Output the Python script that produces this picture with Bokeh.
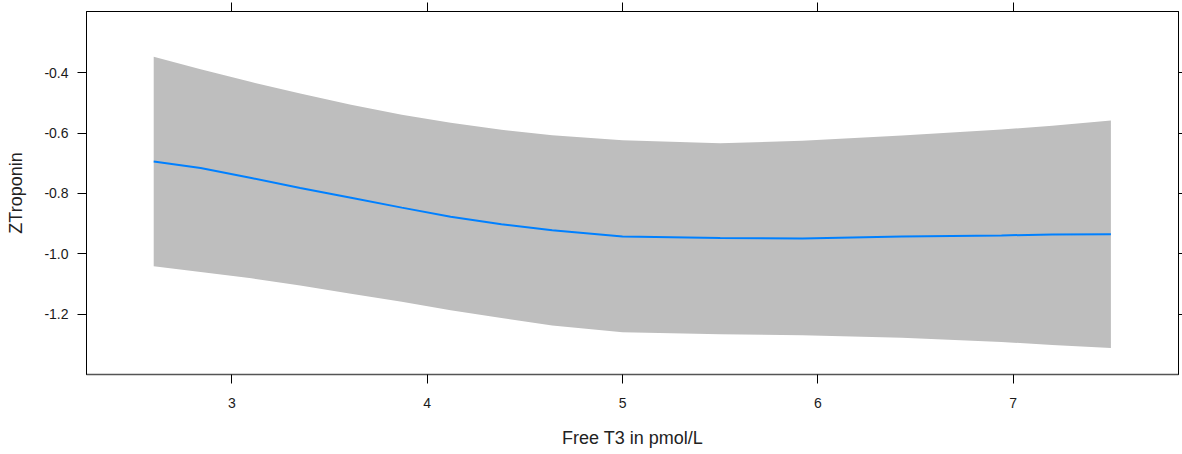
from bokeh.plotting import figure
from bokeh.models import LinearAxis, FixedTicker, PrintfTickFormatter, Range1d
from bokeh.embed import file_html
from bokeh.resources import INLINE

# Data
free_t3 = [2.6, 2.84, 3.1, 3.35, 3.61, 3.87, 4.12, 4.38, 4.64, 5.0, 5.5, 5.92, 6.43, 6.94, 7.2, 7.5]
fit = [-0.694, -0.716, -0.749, -0.782, -0.814, -0.847, -0.877, -0.902, -0.922, -0.943, -0.948, -0.949, -0.943, -0.939, -0.936, -0.935]
lower = [-1.041, -1.060, -1.081, -1.105, -1.132, -1.159, -1.187, -1.213, -1.238, -1.260, -1.267, -1.270, -1.278, -1.292, -1.302, -1.312]
upper = [-0.347, -0.388, -0.431, -0.469, -0.506, -0.539, -0.566, -0.589, -0.607, -0.624, -0.634, -0.625, -0.608, -0.588, -0.576, -0.558]

x_ticks = [3, 4, 5, 6, 7]
y_ticks = [-1.2, -1.0, -0.8, -0.6, -0.4]

FONT = "Liberation Sans"

p = figure(width=1182, height=454, output_backend="svg", toolbar_location=None,
           x_range=Range1d(2.256, 7.846), y_range=Range1d(-1.400, -0.197),
           x_axis_location=None, y_axis_location=None)
p.min_border_left = 86
p.min_border_top = 11
p.min_border_right = 4
p.min_border_bottom = 80
p.xgrid.visible = False
p.ygrid.visible = False
p.outline_line_color = "black"
p.outline_line_width = 1
p.background_fill_color = "white"
p.border_fill_color = "white"

p.varea(x=free_t3, y1=lower, y2=upper, fill_color="#BEBEBE", fill_alpha=1.0)
p.line(x=free_t3, y=fit, line_color="#0080FF", line_width=2)


def labelled(ax, ticks, fmt):
    ax.ticker = FixedTicker(ticks=ticks)
    ax.formatter = PrintfTickFormatter(format=fmt)
    ax.major_tick_out = 9
    ax.major_tick_in = 0
    ax.minor_tick_out = 0
    ax.minor_tick_in = 0
    ax.major_tick_line_color = "black"
    ax.axis_line_color = "black"
    ax.major_label_text_font = FONT
    ax.major_label_text_font_size = "14px"
    ax.major_label_text_color = "#1a1a1a"
    ax.axis_label_text_font = FONT
    ax.axis_label_text_font_size = "18px"
    ax.axis_label_text_font_style = "normal"
    ax.axis_label_text_color = "#222222"


def unlabelled(ax, ticks, tick_out):
    # tick marks only: minor ticks carry no labels
    ax.ticker = FixedTicker(ticks=[], minor_ticks=ticks)
    ax.major_tick_out = 0
    ax.major_tick_in = 0
    ax.minor_tick_out = tick_out
    ax.minor_tick_in = 0
    ax.minor_tick_line_color = "black"
    ax.axis_line_color = "black"


bottom = LinearAxis()
labelled(bottom, x_ticks, "%d")
bottom.major_label_standoff = 14
bottom.axis_label = "Free T3 in pmol/L"
bottom.axis_label_standoff = 17
bottom.axis_line_color = "#555555"
bottom.axis_line_width = 1.5
p.add_layout(bottom, "below")

left = LinearAxis()
labelled(left, y_ticks, "%.1f")
left.major_label_standoff = 9
left.axis_label = "ZTroponin"
left.axis_label_standoff = 15
p.add_layout(left, "left")

top = LinearAxis()
unlabelled(top, x_ticks, 9)
p.add_layout(top, "above")

right = LinearAxis()
unlabelled(right, y_ticks, 4)
p.add_layout(right, "right")

open("out.html", "w").write(file_html(p, INLINE))
